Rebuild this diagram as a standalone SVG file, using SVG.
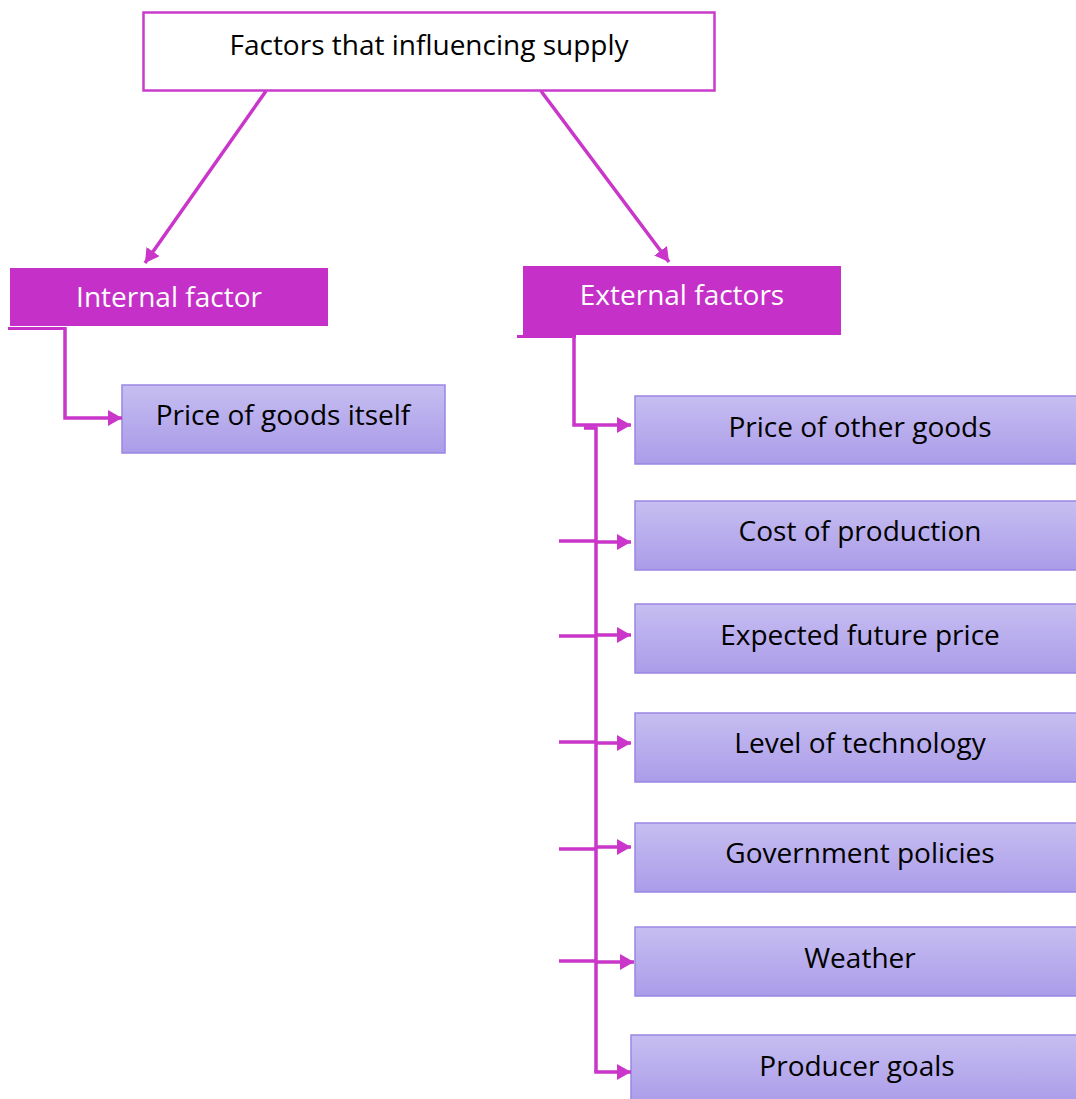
<svg xmlns="http://www.w3.org/2000/svg" width="1076" height="1099" viewBox="0 0 1076 1099">
  <style>
    .lbl { font-family: "Open Sans", "Noto Sans", "Liberation Sans", sans-serif; font-size: 28px; text-anchor: middle; }
    .dark { fill: #000000; }
    .light { fill: #ffffff; }
    .root { fill: #ffffff; stroke: #c93ccb; stroke-width: 2.5; }
    .cat { fill: #c530c8; }
    .item { fill: url(#itemFill); stroke: #9a86e4; stroke-width: 1.5; }
    .wire { fill: none; stroke: #c936c9; stroke-width: 3.5; }
    .head { fill: #c936c9; }
  </style>
  <defs>
    <linearGradient id="itemFill" x1="0" y1="0" x2="0" y2="1">
      <stop offset="0" stop-color="#c6bef1"/>
      <stop offset="1" stop-color="#ab9ce9"/>
    </linearGradient>
    <marker id="arrow" viewBox="0 0 14 16" refX="14" refY="8" markerWidth="14" markerHeight="16" markerUnits="userSpaceOnUse" orient="auto">
      <path class="head" d="M0,0 L14,8 L0,16 Z"/>
    </marker>
  </defs>

  <!-- root -->
  <g id="root">
    <rect class="root" x="143.5" y="12.5" width="571" height="78"/>
    <text class="lbl dark" x="429" y="55">Factors that influencing supply</text>
  </g>

  <!-- categories -->
  <g id="internal">
    <rect class="cat" x="10" y="268" width="318" height="58"/>
    <line x1="8" y1="328.5" x2="66" y2="328.5" stroke="#c530c8" stroke-width="3"/>
    <text class="lbl light" x="169" y="307">Internal factor</text>
  </g>
  <g id="external">
    <rect class="cat" x="523" y="266" width="318" height="69"/>
    <line x1="517" y1="336.5" x2="576" y2="336.5" stroke="#c530c8" stroke-width="3"/>
    <text class="lbl light" x="682" y="305">External factors</text>
  </g>

  <!-- factor boxes -->
  <g id="price-itself">
    <rect class="item" x="122" y="385" width="323" height="68"/>
    <text class="lbl dark" x="283" y="425">Price of goods itself</text>
  </g>
  <g id="price-other">
    <rect class="item" x="635" y="396" width="460" height="68"/>
    <text class="lbl dark" x="860" y="437">Price of other goods</text>
  </g>
  <g id="cost">
    <rect class="item" x="635" y="501" width="460" height="69"/>
    <text class="lbl dark" x="860" y="541">Cost of production</text>
  </g>
  <g id="expected">
    <rect class="item" x="635" y="604" width="460" height="69"/>
    <text class="lbl dark" x="860" y="645">Expected future price</text>
  </g>
  <g id="technology">
    <rect class="item" x="635" y="713" width="460" height="69"/>
    <text class="lbl dark" x="860" y="753">Level of technology</text>
  </g>
  <g id="government">
    <rect class="item" x="635" y="823" width="460" height="69"/>
    <text class="lbl dark" x="860" y="863">Government policies</text>
  </g>
  <g id="weather">
    <rect class="item" x="635" y="927" width="460" height="69"/>
    <text class="lbl dark" x="860" y="968">Weather</text>
  </g>
  <g id="goals">
    <rect class="item" x="631" y="1035" width="460" height="69"/>
    <text class="lbl dark" x="857" y="1076">Producer goals</text>
  </g>

  <!-- connectors -->
  <g id="connectors">
    <line class="wire" x1="266" y1="91" x2="145" y2="263" marker-end="url(#arrow)"/>
    <line class="wire" x1="541" y1="91" x2="669" y2="262" marker-end="url(#arrow)"/>

    <polyline class="wire" points="65,327 65,418 122,418" marker-end="url(#arrow)"/>

    <polyline class="wire" points="574,336 574,425 631,425" marker-end="url(#arrow)"/>
    <line class="wire" x1="584" y1="428" x2="597" y2="428"/>
    <line class="wire" x1="596" y1="427" x2="596" y2="1072"/>

    <line class="wire" x1="559" y1="541" x2="596" y2="541"/>
    <line class="wire" x1="596" y1="542" x2="631" y2="542" marker-end="url(#arrow)"/>
    <line class="wire" x1="559" y1="636" x2="596" y2="636"/>
    <line class="wire" x1="596" y1="635" x2="631" y2="635" marker-end="url(#arrow)"/>
    <line class="wire" x1="559" y1="742" x2="596" y2="742"/>
    <line class="wire" x1="596" y1="743" x2="631" y2="743" marker-end="url(#arrow)"/>
    <line class="wire" x1="559" y1="849" x2="596" y2="849"/>
    <line class="wire" x1="596" y1="847" x2="631" y2="847" marker-end="url(#arrow)"/>
    <line class="wire" x1="559" y1="961" x2="596" y2="961"/>
    <line class="wire" x1="596" y1="962" x2="634" y2="962" marker-end="url(#arrow)"/>
    <polyline class="wire" points="596,1070 596,1072 631,1072" marker-end="url(#arrow)"/>
  </g>
</svg>
